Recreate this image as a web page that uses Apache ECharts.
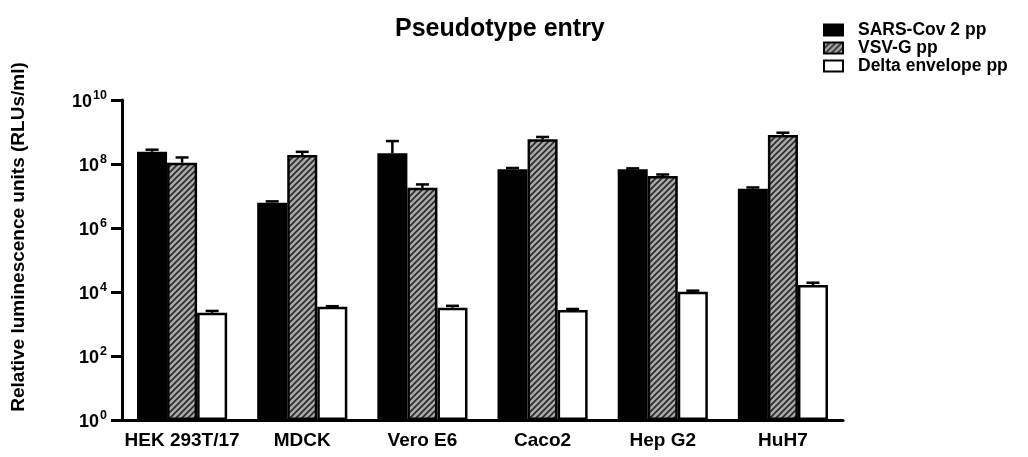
<!DOCTYPE html>
<html>
<head>
<meta charset="utf-8">
<script src="https://cdn.jsdelivr.net/npm/echarts@6/dist/echarts.min.js"></script>
<style>
html,body{margin:0;padding:0;background:#fff;}
#chart{width:1028px;height:457px;}
</style>
</head>
<body>
<div id="chart"></div>
<script>
// ---- data ----
const categories = ['HEK 293T/17', 'MDCK', 'Vero E6', 'Caco2', 'Hep G2', 'HuH7'];
const seriesNames = ['SARS-Cov 2 pp', 'VSV-G pp', 'Delta envelope pp'];
const sarsMean  = [2.4e8, 6.2e6, 2.15e8, 6.9e7, 6.8e7, 1.7e7];
const sarsUpper = [2.8e8, 6.8e6, 5.2e8, 7.5e7, 7.3e7, 1.85e7];
const vsvMean   = [1.1e8, 1.9e8, 1.8e7, 5.9e8, 4.2e7, 8.1e8];
const vsvUpper  = [1.6e8, 2.4e8, 2.3e7, 7.0e8, 4.7e7, 9.5e8];
const deltaMean  = [2240, 3470, 3230, 2740, 10200, 16600];
const deltaUpper = [2560, 3600, 3700, 2950, 11000, 19500];
const yAxisTitle = 'Relative luminescence units (RLUs/ml)';
const chartTitle = 'Pseudotype entry';

const FONT = '"Liberation Sans", Arial, Helvetica, sans-serif';

// hatch pattern
function makeHatch() {
  const c = document.createElement('canvas');
  const s = 6;
  c.width = s; c.height = s;
  const g = c.getContext('2d');
  g.fillStyle = '#a8a8a8';
  g.fillRect(0, 0, s, s);
  g.strokeStyle = '#2a2a2a';
  g.lineWidth = 1.6;
  g.beginPath();
  g.moveTo(0, s); g.lineTo(s, 0);
  g.moveTo(-s / 2, s / 2); g.lineTo(s / 2, -s / 2);
  g.moveTo(s / 2, s * 1.5); g.lineTo(s * 1.5, s / 2);
  g.stroke();
  return c;
}
const hatch = { image: makeHatch(), repeat: 'repeat' };

const chart = echarts.init(document.getElementById('chart'), null, { renderer: 'canvas' });

const means = [sarsMean, vsvMean, deltaMean];
const uppers = [sarsUpper, vsvUpper, deltaUpper];
const fills = ['#000000', hatch, '#ffffff'];

const barSeries = seriesNames.map((name, i) => ({
  name: name,
  type: 'bar',
  data: means[i],
  barGap: '0%',
  barCategoryGap: '25%',
  itemStyle: { color: fills[i], borderColor: '#000', borderWidth: 2.5 },
  z: 2
}));

const errSeries = seriesNames.map((name, i) => ({
  name: name + ' err',
  type: 'custom',
  z: 3,
  data: categories.map((c, k) => [k, means[i][k], uppers[i][k]]),
  renderItem: function (params, api) {
    const band = api.size([1, 0])[0];
    const bw = band * 0.75 / 3;
    const off = (i - 1) * bw;
    const top = api.coord([api.value(0), api.value(1)]);
    const up = api.coord([api.value(0), api.value(2)]);
    const x = top[0] + off;
    const cap = 6.5;
    return {
      type: 'group',
      children: [
        { type: 'line', shape: { x1: x, y1: top[1], x2: x, y2: up[1] }, style: { stroke: '#000', lineWidth: 2.5 } },
        { type: 'line', shape: { x1: x - cap, y1: up[1], x2: x + cap, y2: up[1] }, style: { stroke: '#000', lineWidth: 2.5 } }
      ]
    };
  },
  silent: true
}));

const option = {
  backgroundColor: '#ffffff',
  animation: false,
  textStyle: { fontFamily: FONT },
  title: {
    text: chartTitle,
    left: 390, top: 12,
    textStyle: { fontFamily: FONT, fontWeight: 'bold', fontSize: 25, color: '#000' }
  },
  legend: {
    data: seriesNames,
    orient: 'vertical',
    left: 818, top: 16,
    icon: 'rect',
    itemWidth: 19, itemHeight: 11,
    itemGap: 0,
    selectedMode: false,
    textStyle: { fontFamily: FONT, fontWeight: 'bold', fontSize: 17.5, color: '#000', padding: [0, 0, 0, 10] },
    itemStyle: { borderColor: '#000', borderWidth: 2 }
  },
  graphic: [{
    type: 'text',
    x: 19, y: 237,
    rotation: Math.PI / 2,
    style: {
      text: yAxisTitle,
      fontFamily: FONT, fontWeight: 'bold', fontSize: 19, fill: '#000',
      align: 'center', verticalAlign: 'middle'
    }
  }],
  grid: { left: 122, right: 185, top: 100, bottom: 37, containLabel: false },
  xAxis: {
    type: 'category',
    data: categories,
    axisLine: { lineStyle: { color: '#000', width: 3 } },
    axisTick: { alignWithLabel: true, length: 9, lineStyle: { color: '#000', width: 3 } },
    axisLabel: { interval: 0, margin: 11, color: '#000', fontFamily: FONT, fontWeight: 'bold', fontSize: 19 },
    splitLine: { show: false }
  },
  yAxis: {
    type: 'log',
    logBase: 10,
    min: 1,
    max: 1e10,
    interval: 2,
    axisLine: { show: true, lineStyle: { color: '#000', width: 3 } },
    axisTick: { show: true, length: 11, lineStyle: { color: '#000', width: 3 } },
    splitLine: { show: false },
    axisLabel: {
      margin: 15,
      color: '#000',
      formatter: function (v) {
        const e = Math.round(Math.log10(v));
        return '{b|10}{s|' + e + '}';
      },
      rich: {
        b: { fontFamily: FONT, fontWeight: 'bold', fontSize: 18, color: '#000', lineHeight: 22, verticalAlign: 'bottom' },
        s: { fontFamily: FONT, fontWeight: 'bold', fontSize: 12.5, color: '#000', lineHeight: 12, verticalAlign: 'top', padding: [0, 0, 0, 1] }
      }
    }
  },
  series: barSeries.concat(errSeries)
};
chart.setOption(option);
</script>
</body>
</html>
